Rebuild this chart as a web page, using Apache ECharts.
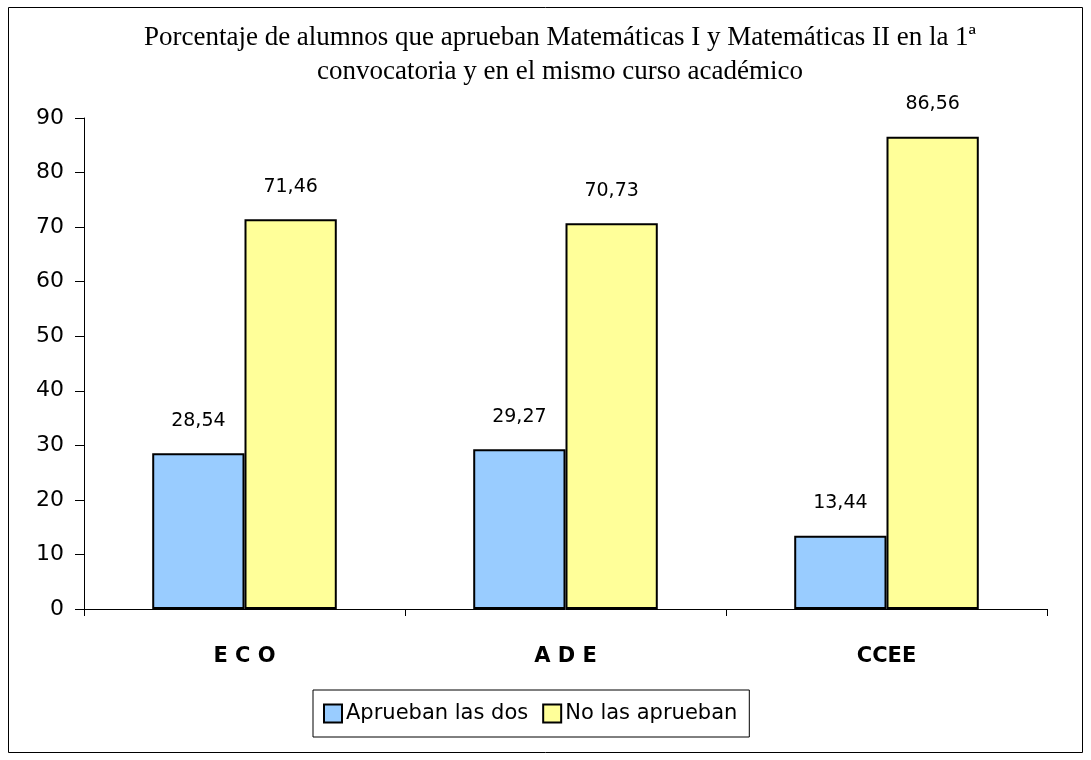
<!DOCTYPE html>
<html><head><meta charset="utf-8">
<script src="https://cdn.jsdelivr.net/npm/echarts@6/dist/echarts.min.js"></script>
<style>html,body{margin:0;padding:0;background:#fff}#c{width:1091px;height:760px}</style>
</head><body><div id="c"></div>
<script>
const categories = ['E C O', 'A D E', 'CCEE'];
const seriesNames = ['Aprueban las dos', 'No las aprueban'];
const valsA = [28.54, 29.27, 13.44];
const valsB = [71.46, 70.73, 86.56];
const yTicks = [0, 10, 20, 30, 40, 50, 60, 70, 80, 90];
const title = 'Porcentaje de alumnos que aprueban Matemáticas I y Matemáticas II en la 1ª\nconvocatoria y en el mismo curso académico';

const chart = echarts.init(document.getElementById('c'), null, {renderer: 'canvas'});
const labelFmt = p => p.value.toFixed(2).replace('.', ',');
const comic = '"DejaVu Sans", sans-serif';
chart.setOption({
  animation: false,
  backgroundColor: '#fff',
  graphic: [{type: 'rect', shape: {x: 8.5, y: 7.5, width: 1074, height: 745}, style: {fill: 'none', stroke: '#000', lineWidth: 1}, z: -1}],
  title: {text: title, left: 555, textAlign: 'center', top: 16, textStyle: {fontFamily: '"Liberation Serif", serif', fontWeight: 'normal', fontSize: 27, color: '#000', lineHeight: 34}},
  legend: {
    data: seriesNames, top: 690, left: 313, itemWidth: 18, itemHeight: 18, itemGap: 14,
    borderColor: '#000', borderWidth: 1, padding: [13, 12, 13, 10],
    textStyle: {fontFamily: comic, fontSize: 21, color: '#000', padding: [0, 0, 0, -1]},
    icon: 'rect'
  },
  grid: {left: 84, right: 44, top: 118, bottom: 151, containLabel: false},
  xAxis: {
    type: 'category', data: categories,
    axisLine: {lineStyle: {color: '#000', width: 1}},
    axisTick: {show: true, length: 7, lineStyle: {color: '#000'}},
    axisLabel: {fontFamily: comic, fontWeight: 'bold', fontSize: 21, color: '#000', margin: 37}
  },
  yAxis: {
    type: 'value', min: 0, max: 90, interval: 10,
    axisLine: {show: true, lineStyle: {color: '#000', width: 1}},
    axisTick: {show: true, length: 9, lineStyle: {color: '#000'}},
    splitLine: {show: false},
    axisLabel: {fontFamily: comic, fontSize: 22, color: '#000', margin: 20}
  },
  series: [
    {name: seriesNames[0], type: 'bar', data: valsA, barGap: '0%', barCategoryGap: '42.5%',
     itemStyle: {color: '#99CCFF', borderColor: '#000', borderWidth: 2},
     label: {show: true, position: 'top', distance: 23, formatter: labelFmt, fontFamily: comic, fontSize: 19, color: '#000'}},
    {name: seriesNames[1], type: 'bar', data: valsB, barGap: '0%', barCategoryGap: '42.5%',
     itemStyle: {color: '#FFFF99', borderColor: '#000', borderWidth: 2},
     label: {show: true, position: 'top', distance: 23, formatter: labelFmt, fontFamily: comic, fontSize: 19, color: '#000'}}
  ]
});
</script></body></html>
